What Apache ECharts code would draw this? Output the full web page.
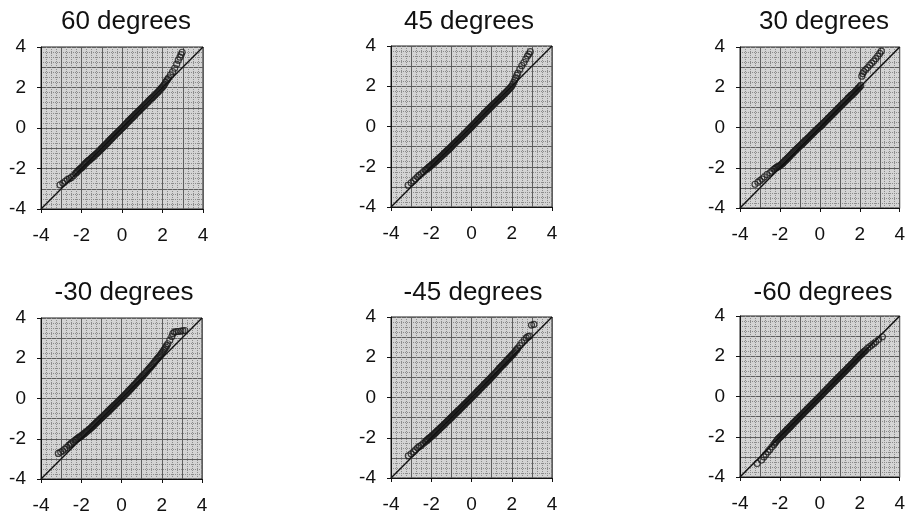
<!DOCTYPE html>
<html>
<head>
<meta charset="utf-8">
<script src="https://cdn.jsdelivr.net/npm/echarts@6/dist/echarts.min.js"></script>
<style>
  html, body { margin: 0; padding: 0; background: #ffffff; }
  #chart { width: 908px; height: 520px; }
</style>
</head>
<body>
<div id="chart"></div>
<script>
// Normal probability plots of the residuals at six rotation angles.
const panelTitles = ['60 degrees', '45 degrees', '30 degrees', '-30 degrees', '-45 degrees', '-60 degrees'];
const tickLabels = [-4, -2, 0, 2, 4];
const axisRange = [-4, 4];

// Theoretical normal quantiles of the central part of each sample (shared by all panels).
const quantiles = [
  -2.00, -1.95, -1.90, -1.85, -1.80, -1.75, -1.70, -1.65, -1.60, -1.55,
  -1.50, -1.45, -1.40, -1.35, -1.30, -1.25, -1.20, -1.15, -1.10, -1.05,
  -1.00, -0.95, -0.90, -0.85, -0.80, -0.75, -0.70, -0.65, -0.60, -0.55,
  -0.50, -0.45, -0.40, -0.35, -0.30, -0.25, -0.20, -0.15, -0.10, -0.05,
  0.00, 0.05, 0.10, 0.15, 0.20, 0.25, 0.30, 0.35, 0.40, 0.45,
  0.50, 0.55, 0.60, 0.65, 0.70, 0.75, 0.80, 0.85, 0.90, 0.95,
  1.00, 1.05, 1.10, 1.15, 1.20, 1.25, 1.30, 1.35, 1.40, 1.45,
  1.50, 1.55, 1.60, 1.65, 1.70, 1.75, 1.80, 1.85, 1.90, 1.95,
  2.00
];

// 60 degrees: ordered residuals for the central quantiles, and the tails as [quantile, residual].
const sample60 = [
  -1.96, -1.92, -1.86, -1.80, -1.75, -1.70, -1.65, -1.61, -1.57, -1.53,
  -1.48, -1.44, -1.39, -1.35, -1.30, -1.26, -1.21, -1.16, -1.11, -1.06,
  -1.01, -0.96, -0.91, -0.86, -0.81, -0.76, -0.71, -0.65, -0.60, -0.55,
  -0.50, -0.45, -0.40, -0.35, -0.30, -0.25, -0.20, -0.15, -0.10, -0.05,
  0.00, 0.05, 0.10, 0.15, 0.20, 0.26, 0.31, 0.36, 0.41, 0.46,
  0.51, 0.56, 0.61, 0.66, 0.71, 0.76, 0.81, 0.86, 0.91, 0.96,
  1.01, 1.06, 1.11, 1.16, 1.21, 1.26, 1.31, 1.37, 1.42, 1.46,
  1.50, 1.55, 1.60, 1.65, 1.70, 1.75, 1.80, 1.86, 1.92, 1.97,
  2.03
];
const lowTail60 = [[-3.06, -2.81], [-2.92, -2.72], [-2.8, -2.63], [-2.7, -2.55], [-2.6, -2.5], [-2.5, -2.44],
  [-2.4, -2.35], [-2.3, -2.25], [-2.25, -2.2], [-2.2, -2.15], [-2.15, -2.09], [-2.1, -2.04], [-2.05, -2.0]];
const highTail60 = [[2.05, 2.09], [2.1, 2.16], [2.15, 2.25], [2.2, 2.33], [2.25, 2.4], [2.3, 2.48], [2.4, 2.62],
  [2.5, 2.78], [2.6, 2.95], [2.7, 3.15], [2.78, 3.35], [2.86, 3.5], [2.92, 3.62], [2.97, 3.74]];

// 45 degrees
const sample45 = [
  -1.93, -1.88, -1.84, -1.80, -1.75, -1.71, -1.66, -1.62, -1.57, -1.52,
  -1.48, -1.43, -1.38, -1.34, -1.29, -1.24, -1.19, -1.15, -1.10, -1.05,
  -1.00, -0.95, -0.90, -0.85, -0.80, -0.75, -0.70, -0.66, -0.61, -0.56,
  -0.51, -0.46, -0.41, -0.36, -0.31, -0.26, -0.21, -0.16, -0.11, -0.06,
  -0.01, 0.04, 0.09, 0.15, 0.20, 0.25, 0.30, 0.35, 0.40, 0.46,
  0.51, 0.56, 0.61, 0.66, 0.71, 0.76, 0.81, 0.86, 0.91, 0.96,
  1.01, 1.06, 1.11, 1.15, 1.20, 1.25, 1.30, 1.34, 1.39, 1.44,
  1.49, 1.54, 1.59, 1.64, 1.69, 1.74, 1.79, 1.85, 1.90, 1.95,
  2.01
];
const lowTail45 = [[-3.15, -2.92], [-3.0, -2.8], [-2.88, -2.7], [-2.78, -2.6], [-2.68, -2.5], [-2.6, -2.43],
  [-2.5, -2.35], [-2.4, -2.26], [-2.3, -2.18], [-2.25, -2.14], [-2.2, -2.1], [-2.15, -2.05], [-2.1, -2.01], [-2.05, -1.97]];
const highTail45 = [[2.05, 2.1], [2.1, 2.2], [2.15, 2.31], [2.2, 2.42], [2.25, 2.54], [2.3, 2.65], [2.4, 2.85],
  [2.5, 3.02], [2.6, 3.18], [2.7, 3.35], [2.78, 3.5], [2.85, 3.6], [2.92, 3.72]];

// 30 degrees
const sample30 = [
  -1.89, -1.85, -1.81, -1.76, -1.71, -1.66, -1.61, -1.56, -1.51, -1.46,
  -1.41, -1.36, -1.31, -1.26, -1.21, -1.16, -1.11, -1.06, -1.01, -0.96,
  -0.92, -0.87, -0.83, -0.78, -0.73, -0.68, -0.63, -0.59, -0.54, -0.49,
  -0.44, -0.39, -0.34, -0.29, -0.24, -0.19, -0.14, -0.10, -0.05, 0.00,
  0.04, 0.08, 0.13, 0.18, 0.23, 0.28, 0.33, 0.38, 0.43, 0.48,
  0.53, 0.58, 0.63, 0.68, 0.73, 0.78, 0.83, 0.88, 0.93, 0.98,
  1.03, 1.08, 1.13, 1.18, 1.23, 1.28, 1.33, 1.38, 1.43, 1.48,
  1.53, 1.58, 1.62, 1.66, 1.71, 1.76, 1.81, 1.86, 1.92, 1.97,
  2.03
];
const lowTail30 = [[-3.25, -2.82], [-3.1, -2.72], [-3.0, -2.64], [-2.9, -2.56], [-2.78, -2.46], [-2.65, -2.34],
  [-2.5, -2.25], [-2.4, -2.17], [-2.3, -2.08], [-2.25, -2.04], [-2.2, -2.0], [-2.15, -1.97], [-2.1, -1.95], [-2.05, -1.92]];
const highTail30 = [[2.05, 2.09], [2.1, 2.55], [2.15, 2.68], [2.2, 2.78], [2.3, 2.88], [2.4, 2.98], [2.5, 3.1],
  [2.6, 3.2], [2.7, 3.3], [2.8, 3.42], [2.9, 3.55], [3.0, 3.68], [3.08, 3.8]];

// -30 degrees
const sampleM30 = [
  -1.86, -1.82, -1.78, -1.74, -1.70, -1.66, -1.62, -1.58, -1.53, -1.49,
  -1.44, -1.40, -1.35, -1.30, -1.25, -1.20, -1.15, -1.11, -1.06, -1.01,
  -0.96, -0.92, -0.87, -0.82, -0.77, -0.73, -0.68, -0.63, -0.58, -0.53,
  -0.48, -0.43, -0.38, -0.34, -0.29, -0.24, -0.19, -0.14, -0.09, -0.04,
  0.01, 0.06, 0.11, 0.16, 0.21, 0.26, 0.31, 0.37, 0.42, 0.47,
  0.52, 0.58, 0.63, 0.68, 0.73, 0.79, 0.84, 0.90, 0.95, 1.01,
  1.06, 1.12, 1.17, 1.23, 1.28, 1.34, 1.40, 1.46, 1.51, 1.57,
  1.63, 1.69, 1.75, 1.81, 1.87, 1.94, 2.00, 2.06, 2.12, 2.18,
  2.25
];
const lowTailM30 = [[-3.14, -2.73], [-3.02, -2.66], [-2.92, -2.6], [-2.82, -2.52], [-2.72, -2.43], [-2.62, -2.33],
  [-2.55, -2.28], [-2.5, -2.22], [-2.4, -2.15], [-2.3, -2.07], [-2.25, -2.04], [-2.2, -2.0], [-2.15, -1.96], [-2.1, -1.93], [-2.05, -1.9]];
const highTailM30 = [[2.05, 2.32], [2.1, 2.4], [2.15, 2.47], [2.2, 2.55], [2.25, 2.63], [2.3, 2.72], [2.4, 2.9],
  [2.5, 3.08], [2.55, 3.22], [2.62, 3.3], [2.72, 3.32], [2.82, 3.33], [2.95, 3.35], [3.05, 3.36], [3.15, 3.38]];

// -45 degrees
const sampleM45 = [
  -1.94, -1.89, -1.85, -1.80, -1.76, -1.71, -1.66, -1.62, -1.57, -1.52,
  -1.47, -1.43, -1.38, -1.33, -1.28, -1.23, -1.18, -1.14, -1.09, -1.04,
  -0.99, -0.94, -0.89, -0.84, -0.79, -0.74, -0.69, -0.65, -0.60, -0.55,
  -0.50, -0.45, -0.40, -0.35, -0.30, -0.25, -0.20, -0.15, -0.10, -0.05,
  0.00, 0.05, 0.10, 0.15, 0.20, 0.25, 0.30, 0.36, 0.41, 0.46,
  0.51, 0.56, 0.61, 0.66, 0.71, 0.76, 0.81, 0.86, 0.91, 0.97,
  1.02, 1.07, 1.12, 1.18, 1.23, 1.29, 1.34, 1.40, 1.46, 1.51,
  1.56, 1.61, 1.66, 1.72, 1.77, 1.83, 1.88, 1.93, 1.98, 2.04,
  2.09
];
const lowTailM45 = [[-3.14, -2.9], [-3.0, -2.8], [-2.88, -2.7], [-2.78, -2.6], [-2.68, -2.5], [-2.6, -2.44],
  [-2.5, -2.38], [-2.4, -2.29], [-2.3, -2.2], [-2.25, -2.15], [-2.2, -2.11], [-2.15, -2.07], [-2.1, -2.02], [-2.05, -1.98]];
const highTailM45 = [[2.05, 2.14], [2.1, 2.2], [2.15, 2.26], [2.2, 2.32], [2.25, 2.38], [2.3, 2.45], [2.4, 2.58],
  [2.5, 2.72], [2.62, 2.85], [2.72, 2.96], [2.8, 3.02], [2.88, 3.05], [2.98, 3.6], [3.1, 3.63]];

// -60 degrees
const sampleM60 = [
  -2.02, -1.97, -1.92, -1.87, -1.82, -1.76, -1.71, -1.66, -1.61, -1.56,
  -1.51, -1.46, -1.41, -1.35, -1.30, -1.25, -1.20, -1.15, -1.10, -1.05,
  -1.00, -0.95, -0.91, -0.86, -0.80, -0.75, -0.70, -0.65, -0.60, -0.55,
  -0.50, -0.45, -0.40, -0.35, -0.30, -0.25, -0.20, -0.15, -0.10, -0.05,
  0.00, 0.05, 0.10, 0.15, 0.21, 0.26, 0.31, 0.36, 0.41, 0.46,
  0.51, 0.56, 0.61, 0.66, 0.71, 0.76, 0.81, 0.86, 0.91, 0.96,
  1.01, 1.06, 1.11, 1.16, 1.21, 1.26, 1.31, 1.36, 1.41, 1.46,
  1.51, 1.56, 1.61, 1.66, 1.71, 1.77, 1.82, 1.87, 1.93, 1.98,
  2.04
];
const lowTailM60 = [[-3.14, -3.33], [-2.92, -3.16], [-2.8, -3.0], [-2.7, -2.88], [-2.6, -2.75], [-2.5, -2.63],
  [-2.4, -2.5], [-2.3, -2.38], [-2.25, -2.31], [-2.2, -2.25], [-2.15, -2.18], [-2.1, -2.12], [-2.05, -2.07]];
const highTailM60 = [[2.05, 2.08], [2.1, 2.12], [2.15, 2.17], [2.2, 2.22], [2.25, 2.26], [2.3, 2.31], [2.4, 2.4],
  [2.5, 2.48], [2.6, 2.56], [2.7, 2.63], [2.8, 2.72], [2.95, 2.84], [3.13, 2.97]];

const samples = [sample60, sample45, sample30, sampleM30, sampleM45, sampleM60];
const lowTails = [lowTail60, lowTail45, lowTail30, lowTailM30, lowTailM45, lowTailM60];
const highTails = [highTail60, highTail45, highTail30, highTailM30, highTailM45, highTailM60];

// Panel placement in pixels: plot box and title anchor.
const panels = [
  { left: 41,  top: 47,  size: 162, titleX: 126, titleY: 9 },
  { left: 391, top: 46,  size: 161, titleX: 469, titleY: 9 },
  { left: 740, top: 47,  size: 161, titleX: 824, titleY: 9 },
  { left: 41,  top: 318, size: 161, titleX: 124, titleY: 280 },
  { left: 391, top: 317, size: 161, titleX: 473, titleY: 280 },
  { left: 740, top: 316, size: 161, titleX: 823, titleY: 280 }
];

const FONT = 'Liberation Sans, Arial, Helvetica, sans-serif';
const INK = '#111111';

const grid = [], xAxis = [], yAxis = [], series = [], title = [];

panels.forEach((p, i) => {
  grid.push({
    left: p.left, top: p.top, width: p.size, height: p.size,
    show: true, backgroundColor: '#d4d4d4', borderColor: '#222', borderWidth: 1
  });

  title.push({
    text: panelTitles[i], left: p.titleX, top: p.titleY, textAlign: 'center', padding: 0,
    textStyle: { fontFamily: FONT, fontSize: 26, fontWeight: 'normal', color: INK }
  });

  const mainAxis = (gridIndex, position) => ({
    gridIndex, type: 'value', position, min: axisRange[0], max: axisRange[1], interval: 1,
    axisLine: { show: true, onZero: false, lineStyle: { color: INK, width: 1 } },
    axisTick: { show: false },
    axisLabel: {
      margin: position === 'left' ? 15 : 17, fontFamily: FONT, fontSize: 19, color: INK,
      formatter: v => (tickLabels.indexOf(v) >= 0 ? String(v) : '')
    },
    splitLine: { show: true, lineStyle: { color: '#5e5e5e', width: 1 } },
    minorTick: { show: false, splitNumber: 4 },
    minorSplitLine: { show: true, lineStyle: { color: '#8c8c8c', width: 1, type: 'dotted' } }
  });
  // Short outside ticks at the labelled values only.
  const tickAxis = (gridIndex, position) => ({
    gridIndex, type: 'value', position, min: axisRange[0], max: axisRange[1], interval: 2,
    axisLine: { show: false, onZero: false },
    axisTick: { show: true, length: 4, lineStyle: { color: INK, width: 1 } },
    axisLabel: { show: false },
    splitLine: { show: false }
  });

  xAxis.push(mainAxis(i, 'bottom'), tickAxis(i, 'bottom'));
  yAxis.push(mainAxis(i, 'left'), tickAxis(i, 'left'));

  const points = lowTails[i].concat(quantiles.map((q, k) => [q, samples[i][k]]), highTails[i]);

  series.push({
    type: 'scatter', xAxisIndex: 2 * i, yAxisIndex: 2 * i,
    symbol: 'circle', symbolSize: 6, silent: true, z: 3,
    itemStyle: { color: 'transparent', borderColor: '#1a1a1a', borderWidth: 1.2 },
    data: points
  });
  series.push({
    type: 'line', xAxisIndex: 2 * i, yAxisIndex: 2 * i,
    showSymbol: false, silent: true, z: 4,
    lineStyle: { color: INK, width: 1.5 },
    data: [[axisRange[0], axisRange[0]], [axisRange[1], axisRange[1]]]
  });
});

const chart = echarts.init(document.getElementById('chart'), null, { renderer: 'canvas' });
chart.setOption({
  animation: false,
  backgroundColor: '#ffffff',
  title, grid, xAxis, yAxis, series
});
</script>
</body>
</html>
